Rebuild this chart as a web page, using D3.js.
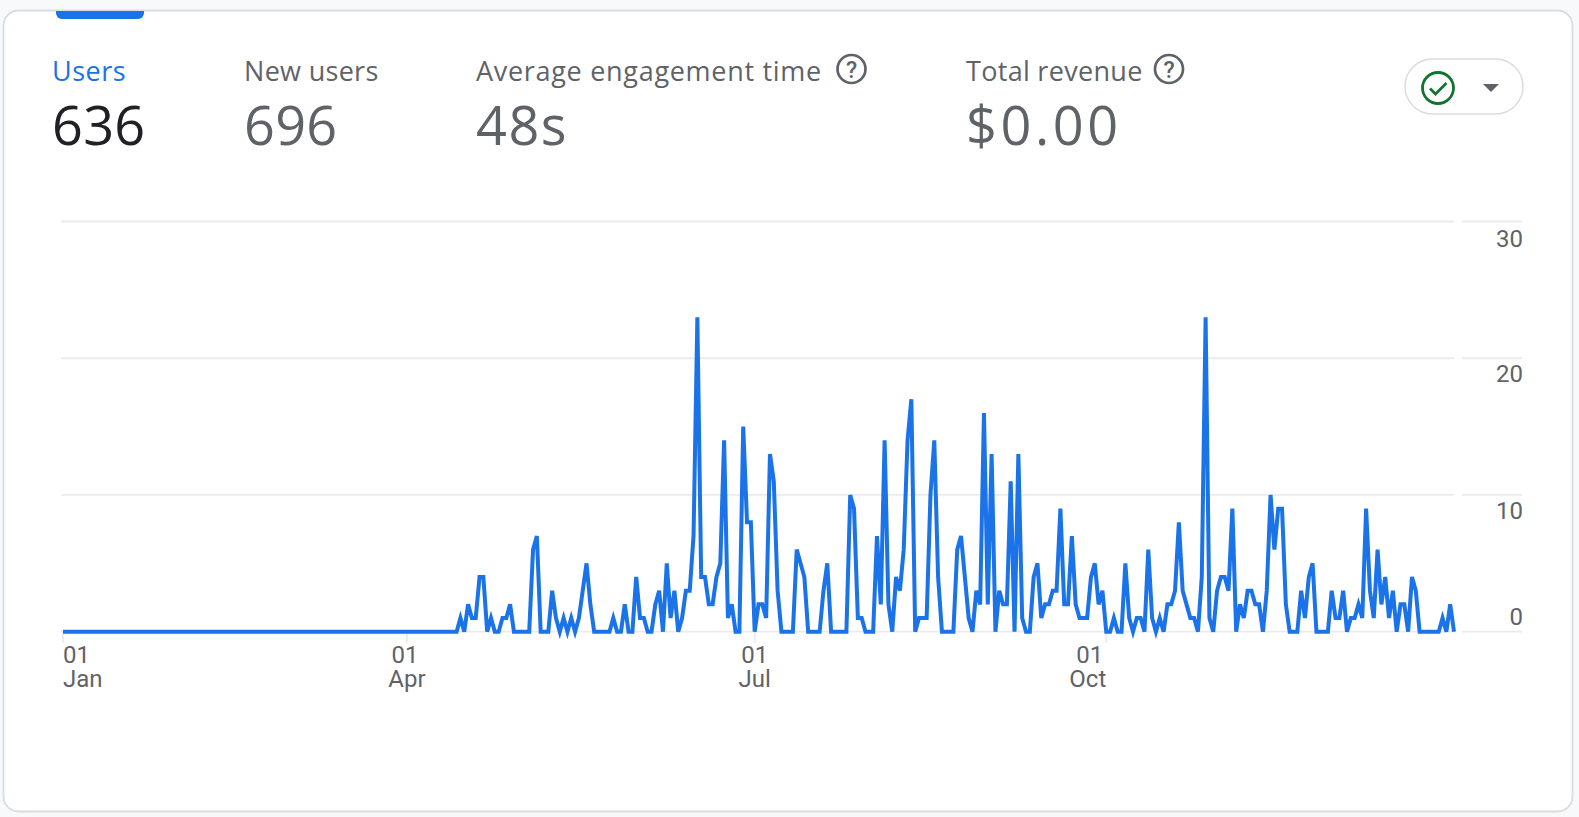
<!DOCTYPE html>
<html><head><meta charset="utf-8">
<script src="https://cdnjs.cloudflare.com/ajax/libs/d3/7.8.5/d3.min.js"></script>
<style>html,body{margin:0;padding:0;background:#f8f9fa}svg{display:block}</style>
</head><body><svg id="c" width="1579" height="817"></svg>
<script>
const users = [
0,0,0,0,0,0,0,0,0,0,0,0,0,0,0,0,0,0,0,0,0,0,0,0,0,0,0,0,0,0,0,
0,0,0,0,0,0,0,0,0,0,0,0,0,0,0,0,0,0,0,0,0,0,0,0,0,0,0,0,
0,0,0,0,0,0,0,0,0,0,0,0,0,0,0,0,0,0,0,0,0,0,0,0,0,0,0,0,0,0,0,
0,0,0,0,0,0,0,0,0,0,0,0,0,
0,1,0,2,1,1,4,4,0,1,0,0,1,1,2,0,0,0,0,0,6,7,0,0,0,3,1,0,1,0,1,0,1,3,5,2,0,
0,0,0,0,1,0,0,2,0,0,4,1,1,0,0,2,3,0,5,1,3,0,1,3,3,7,23,4,4,2,2,4,5,14,1,2,0,0,15,8,8,
0,2,2,1,13,11,3,0,0,0,0,6,5,4,0,0,0,0,3,5,0,0,0,0,0,10,9,1,1,0,0,0,7,2,14,
2,0,4,3,6,14,17,0,1,1,1,10,14,4,0,0,0,0,6,7,4,1,0,3,2,16,2,13,0,3,2,2,11,0,13,1,0,0,
4,5,1,2,2,3,3,9,2,2,7,2,1,1,1,4,5,2,3,0,0,1,0,0,5,1,0,1,1,0,6,1,0,1,0,2,2,3,8,3,2,1,1,0,4,
23,1,0,3,4,4,3,9,0,2,1,3,3,2,2,0,3,10,6,9,9,2,0,0,0,3,1,4,5,0,0,0,0,3,1,1,3,0,1,1,2,1,9,
3,1,6,2,4,1,3,0,2,2,0,4,3,0,0,0,0,0,0,1,0,2,0];
const yTicks = [0,10,20,30];
const dayLabels = ["01","01","01","01"];
const monthLabels = ["Jan","Apr","Jul","Oct"];
const tickDays = [0,90,181,273];
const metricNames = ["Users","New users","Average engagement time","Total revenue"];
const metricValues = ["636","696","48s","$0.00"];

const svg = d3.select("#c");
const BLUE="#1a73e8", GREY="#5f6368", GRID="#ebebeb";
const SANS="'Open Sans','Noto Sans',sans-serif", TICK="Roboto,sans-serif";

svg.append("rect").attr("x",3.5).attr("y",10.5).attr("width",1569).attr("height",801)
  .attr("rx",15).attr("fill","#fff").attr("stroke","#dadce0").attr("stroke-width",1.8);

// active-tab marker
svg.append("path").attr("d","M56,11H144V13a6,6 0 0 1 -6,6H62a6,6 0 0 1 -6,-6Z").attr("fill",BLUE);

// metric headers
const mx=[52,244,476,966], helpX=[null,null,851.5,1169];
const labelSpacing=[0.5,0.3,0.7,0.3], valueSpacing=[0.3,0.3,1.5,3.6];
metricNames.forEach((n,i)=>{
  svg.append("text").attr("x",mx[i]).attr("y",81).attr("font-family",SANS).attr("font-size",27)
    .attr("letter-spacing",labelSpacing[i]).attr("fill",i==0?BLUE:GREY).text(n);
  svg.append("text").attr("x",mx[i]).attr("y",145).attr("font-family",SANS).attr("font-size",54)
    .attr("letter-spacing",valueSpacing[i]).attr("fill",i==0?"#202124":GREY).text(metricValues[i]);
  if(helpX[i]){
    const g=svg.append("g").attr("transform",`translate(${helpX[i]},69)`);
    g.append("circle").attr("r",14).attr("fill","none").attr("stroke",GREY).attr("stroke-width",2.7);
    g.append("text").attr("y",8.5).attr("text-anchor","middle").attr("font-family",TICK).attr("font-weight",500).attr("font-size",23).attr("fill",GREY).text("?");
  }
});

// status button
svg.append("rect").attr("x",1405).attr("y",59).attr("width",118).attr("height",55).attr("rx",27.5)
  .attr("fill","#fff").attr("stroke","#dadce0").attr("stroke-width",1.5);
svg.append("circle").attr("cx",1438).attr("cy",88).attr("r",15.5).attr("fill","none").attr("stroke","#137333").attr("stroke-width",2.8);
svg.append("path").attr("d","M1430,88.5l5.5,5.5l11,-11").attr("fill","none").attr("stroke","#137333").attr("stroke-width",2.8);
svg.append("path").attr("d","M1483,84h16l-8,8Z").attr("fill",GREY);

// chart
const x=d3.scaleLinear().domain([0,364]).range([63,1454]);
const y=d3.scaleLinear().domain([0,30]).range([631.7,221.5]);

const grid=svg.append("g");
const yLabelOffset=[-6.5,24.5,24,25.5];
yTicks.forEach((t,i)=>{
  grid.append("line").attr("x1",61).attr("x2",1454).attr("y1",y(t)).attr("y2",y(t)).attr("stroke",GRID).attr("stroke-width",1.8);
  grid.append("line").attr("x1",1462).attr("x2",1522).attr("y1",y(t)).attr("y2",y(t)).attr("stroke",GRID).attr("stroke-width",1.8);
  svg.append("text").attr("x",1523).attr("y",y(t)+yLabelOffset[i]).attr("text-anchor","end")
    .attr("font-family",TICK).attr("font-size",24).attr("fill",GREY).text(t);
});
const dayDx=[0,-2,0,-3];
tickDays.forEach((d,i)=>{
  svg.append("line").attr("x1",x(d)).attr("x2",x(d)).attr("y1",632).attr("y2",643).attr("stroke",GRID).attr("stroke-width",1.8);
  const a=i==0?"start":i==3?"end":"middle";
  const t=svg.append("text").attr("font-family",TICK).attr("font-size",24).attr("fill",GREY).attr("text-anchor",a);
  const tx=x(d);
  t.append("tspan").attr("x",tx+dayDx[i]).attr("y",663).text(dayLabels[i]);
  t.append("tspan").attr("x",tx).attr("y",687).text(monthLabels[i]);
});
const line=d3.line().x((d,i)=>x(i)).y(d=>y(d));
svg.append("path").datum(users).attr("d",line).attr("fill","none").attr("stroke",BLUE).attr("stroke-width",4).attr("stroke-linejoin","miter");
</script></body></html>
